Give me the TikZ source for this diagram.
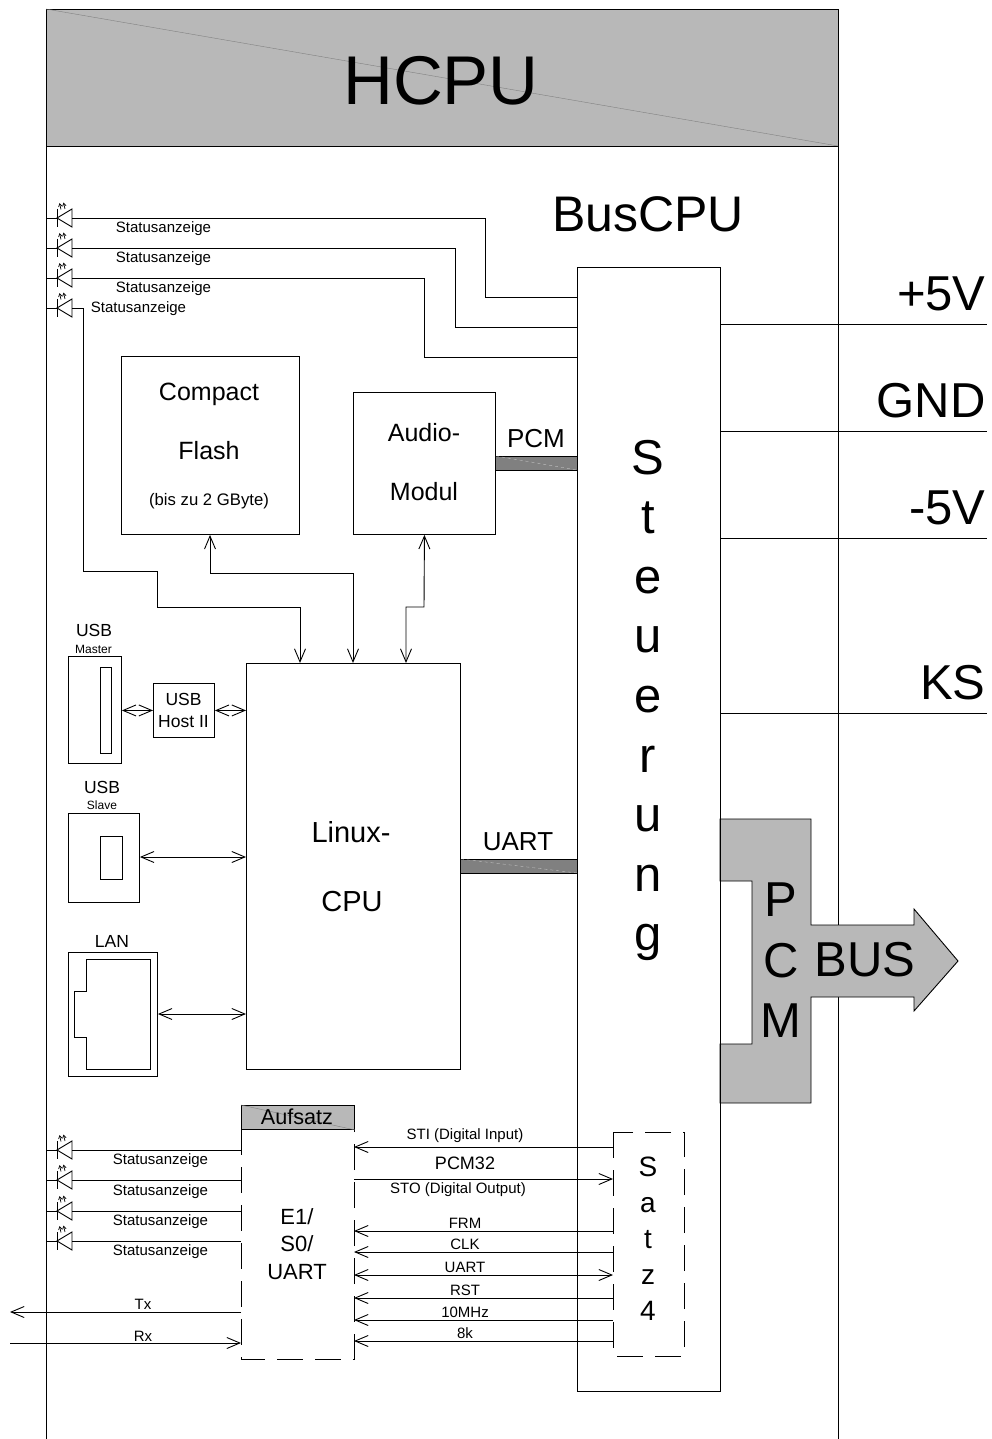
\documentclass[tikz,border=0pt]{standalone}
\usepackage{fontspec}
\setmainfont{Liberation Sans}
\usetikzlibrary{arrows.meta}

\newcommand{\fsize}[1]{\fontsize{#1}{#1}\selectfont}
% status led, tip at the frame side
\newcommand{\statusled}[2]{
	\coordinate (#1) at (72,#2);
	\coordinate (#1frame) at (46,#2);
	\draw (#1frame) -- (57,#2);
	\draw (57,#2-9) -- (57,#2+9);
	\draw (#1) -- (72,#2-9) -- (57,#2) -- (72,#2+9) -- cycle;
	\draw[line width=0.7pt,-{Straight Barb[length=3pt,width=3.5pt]}] (61,#2-8.5) -- (59.5,#2-15);
	\draw[line width=0.7pt,-{Straight Barb[length=3pt,width=3.5pt]}] (65,#2-9) -- (63.5,#2-15.5);
}

\tikzset{
	>={Straight Barb[length=13pt,width=11pt]},
	box/.style={draw,inner sep=0pt,anchor=north west},
	greybox/.style={fill=hcpugrey,draw},
	lbl/.style={inner sep=0pt,font=\fsize{15}},
	lblusb/.style={inner sep=0pt,font=\fsize{17.5}},
	lblsub/.style={inner sep=0pt,font=\fsize{12}},
	lblmid/.style={inner sep=0pt,font=\fsize{18}},
	lblbig/.style={inner sep=0pt,font=\fsize{25}},
	lblbar/.style={inner sep=0pt,font=\fsize{26}},
	lblcpu/.style={inner sep=0pt,font=\fsize{29}},
	lblhuge/.style={inner sep=0pt,font=\fsize{49}},
	dashbox/.style={draw,dash pattern=on 26pt off 12pt},
	faint/.style={gray,line width=0.4pt},
}
\definecolor{hcpugrey}{gray}{0.72}
\definecolor{bargrey}{gray}{0.5}

\begin{document}
\begin{tikzpicture}[x=1pt,y=-1pt,line width=0.9pt]
	\useasboundingbox (0,0) rectangle (991,1439);

	% frame and header
	\draw (46,146) -- (46,1439);
	\draw (838,146) -- (838,1439);
	\draw[greybox] (46,9) rectangle (838,146);
	\draw[faint] (46,9) -- (838,146);
	\node[font=\fsize{69},inner sep=0pt] (hcpu) at (441,81) {HCPU};
	\node[font=\fsize{50},inner sep=0pt] (buscpu) at (648,214) {BusCPU};

	% pcm bus, below the steuerung box
	\draw[greybox] (720,819) -- (811,819) -- (811,925) -- (914,925) -- (914,909) -- (958,961) -- (914,1011) -- (914,997) -- (811,997) -- (811,1103) -- (720,1103) -- (720,1044) -- (752,1044) -- (752,881) -- (720,881) -- cycle;
	\node[lblhuge] (pcmp) at (781,900) {P};
	\node[lblhuge] (pcmc) at (781,961) {C};
	\node[lblhuge] (pcmm) at (781,1021) {M};
	\node[lblhuge] (bus) at (865,960) {BUS};

	% steuerung
	\node[box,minimum width=143pt,minimum height=1124pt] (steuerung) at (577,267) {};
	\node[inner sep=0pt,align=center,font=\fontsize{49}{59.6}\selectfont] (steuertext) at (648,700.5) {S\\t\\e\\u\\e\\r\\u\\n\\g};

	% supply lines
	\coordinate (vplus) at (987,324);
	\coordinate (gnd) at (987,431);
	\coordinate (vminus) at (987,538);
	\coordinate (ks) at (987,713);
	\draw (steuerung.east |- vplus) -- (vplus);
	\draw (steuerung.east |- gnd) -- (gnd);
	\draw (steuerung.east |- vminus) -- (vminus);
	\draw (steuerung.east |- ks) -- (ks);
	\node[lblhuge,anchor=east] (vplustext) at (986,294) {+5V};
	\node[lblhuge,anchor=east] (gndtext) at (986,401) {GND};
	\node[lblhuge,anchor=east] (vminustext) at (986,508) {-5V};
	\node[lblhuge,anchor=east] (kstext) at (986,683) {KS};

	% boxes
	\node[box,minimum width=178pt,minimum height=178pt] (flash) at (121,356) {};
	\node[lblbig] (flashone) at (209,394) {Compact};
	\node[lblbig] (flashtwo) at (209,451) {Flash};
	\node[inner sep=0pt,font=\fsize{16.7}] (flashthree) at (209,501) {(bis zu 2 GByte)};
	\node[box,minimum width=142pt,minimum height=142pt] (audio) at (353,392) {};
	\node[lblbig] (audioone) at (424,433) {Audio-};
	\node[lblbig] (audiotwo) at (424,492) {Modul};
	\node[box,minimum width=214pt,minimum height=406pt] (linux) at (246,663) {};
	\node[lblcpu] (linuxone) at (351,832) {Linux-};
	\node[lblcpu] (linuxtwo) at (352,902) {CPU};

	% pcm and uart bars
	\draw[fill=bargrey] (audio.east |- 0,456) coordinate (pcmbarw) rectangle (steuerung.west |- 0,470) coordinate (pcmbare);
	\draw[white,opacity=0.5,line width=0.4pt,dashed] (pcmbarw) -- (pcmbare);
	\node[lblbar] (pcmbar) at (536,439) {PCM};
	\draw[fill=bargrey] (linux.east |- 0,859) coordinate (uartbarw) rectangle (steuerung.west |- 0,873) coordinate (uartbare);
	\draw[white,opacity=0.5,line width=0.4pt,dashed] (uartbarw) -- (uartbare);
	\node[lblbar] (uartbar) at (518,842) {UART};

	% usb and lan
	\node[box,minimum width=53pt,minimum height=107pt] (usbm) at (68,656) {};
	\node[box,minimum width=11pt,minimum height=86pt] (usbmport) at (100,667) {};
	\node[lblusb] (usbmtext) at (94,630) {USB};
	\node[lblsub] (usbmsub) at (93.5,649) {Master};
	\node[box,minimum width=61pt,minimum height=54pt] (host) at (153,683) {};
	\node[lblusb,align=center,font=\fontsize{17.5}{22}\selectfont] (hosttext) at (183.5,710) {USB\\Host II};
	\node[box,minimum width=71pt,minimum height=89pt] (usbs) at (68,813) {};
	\node[box,minimum width=22pt,minimum height=43pt] (usbsport) at (100,836) {};
	\node[lblusb] (usbstext) at (102,787) {USB};
	\node[lblsub] (usbssub) at (102,805) {Slave};
	\node[box,minimum width=89pt,minimum height=124pt] (lan) at (68,952) {};
	\draw (86,959) -- (150,959) -- (150,1069) -- (86,1069) -- (86,1037) -- (74.5,1037) -- (74.5,991) -- (86,991) -- cycle;
	\node[lblusb] (lantext) at (112,941) {LAN};

	\draw[<->] (usbm.east |- host.west) -- (host.west);
	\draw[<->] (host.east) -- (linux.west |- host.east);
	\draw[<->] (usbs.east |- 0,857) -- (linux.west |- 0,857);
	\draw[<->] (lan.east |- 0,1014) -- (linux.west |- 0,1014);

	% status lines at the top
	\statusled{leda}{218}
	\statusled{ledb}{248}
	\statusled{ledc}{278}
	\statusled{ledd}{308}
	\draw (leda) -- (485,218) |- (steuerung.west |- 0,297);
	\draw (ledb) -- (455,248) |- (steuerung.west |- 0,327);
	\draw (ledc) -- (424,278) |- (steuerung.west |- 0,357);
	\draw[->] (ledd) -- (83,308) -- (83,571) -- (157,571) -- (157,607) -- (300,607) -- (linux.north -| 300,0);
	\node[lbl] (ledatext) at (163.5,229) {Statusanzeige};
	\node[lbl] (ledbtext) at (163.5,259) {Statusanzeige};
	\node[lbl] (ledctext) at (163.5,289) {Statusanzeige};
	\node[lbl] (leddtext) at (138.5,309) {Statusanzeige};

	% flash and audio to the cpu
	\draw[<->] (flash.south -| 210,0) -- (210,573) -- (353,573) -- (linux.north -| 353,0);
	\draw[<->] (audio.south) -- (424,607) -- (406,607) -- (linux.north -| 406,0);

	% aufsatz
	\draw[dashbox] (241,1129) rectangle (354,1359);
	\node[box,fill=hcpugrey,minimum width=113pt,minimum height=24pt] (aufsatz) at (241,1105) {};
	\draw[faint] (aufsatz.north west) -- (aufsatz.south east);
	\node[inner sep=0pt,font=\fsize{21.6}] (aufsatztext) at (297,1117) {Aufsatz};
	\node[inner sep=0pt,align=center,font=\fontsize{22}{27.5}\selectfont] (etext) at (297,1244) {E1/\\S0/\\UART};
	\coordinate (ewest) at (241,1243);
	\coordinate (eeast) at (354,1243);

	% satz 4
	\draw[dashbox] (613,1132) rectangle (684,1356);
	\coordinate (satzwest) at (613,1243);
	\node[inner sep=0pt,align=center,font=\fontsize{28}{36}\selectfont] (satztext) at (648,1239) {S\\a\\t\\z\\4};

	% status lines at the bottom
	\statusled{lede}{1150}
	\statusled{ledf}{1180}
	\statusled{ledg}{1211}
	\statusled{ledh}{1241}
	\draw (lede) -- (ewest |- lede);
	\draw (ledf) -- (ewest |- ledf);
	\draw (ledg) -- (ewest |- ledg);
	\draw (ledh) -- (ewest |- ledh);
	\node[lbl] (ledetext) at (160.5,1161) {Statusanzeige};
	\node[lbl] (ledftext) at (160.5,1192) {Statusanzeige};
	\node[lbl] (ledgtext) at (160.5,1222) {Statusanzeige};
	\node[lbl] (ledhtext) at (160.5,1252) {Statusanzeige};

	\coordinate (txend) at (10,1312);
	\coordinate (rxend) at (10,1343);
	\draw[->] (ewest |- txend) -- (txend);
	\draw[->] (rxend) -- (ewest |- rxend);
	\node[lbl] (txtext) at (143,1304) {Tx};
	\node[lbl] (rxtext) at (143,1336) {Rx};

	% signals between e1 and satz 4
	\draw[<-] (eeast |- 0,1147) -- (satzwest |- 0,1147);
	\draw[->] (eeast |- 0,1179) -- (satzwest |- 0,1179);
	\draw[<-] (eeast |- 0,1231) -- (satzwest |- 0,1231);
	\draw[<-] (eeast |- 0,1252) -- (satzwest |- 0,1252);
	\draw[<->] (eeast |- 0,1275) -- (satzwest |- 0,1275);
	\draw[<-] (eeast |- 0,1298) -- (satzwest |- 0,1298);
	\draw[<-] (eeast |- 0,1320) -- (satzwest |- 0,1320);
	\draw[<-] (eeast |- 0,1341) -- (satzwest |- 0,1341);
	\node[lbl] (stitext) at (465,1136) {STI (Digital Input)};
	\node[lblmid] (pcmtext) at (465,1163) {PCM32};
	\node[lbl] (stotext) at (458,1190) {STO (Digital Output)};
	\node[lbl] (frmtext) at (465,1223) {FRM};
	\node[lbl] (clktext) at (465,1244) {CLK};
	\node[lbl] (uarttext) at (465,1267) {UART};
	\node[lbl] (rsttext) at (465,1290) {RST};
	\node[lbl] (mhztext) at (465,1312) {10MHz};
	\node[lbl] (ktext) at (465,1333) {8k};
\end{tikzpicture}
\end{document}
